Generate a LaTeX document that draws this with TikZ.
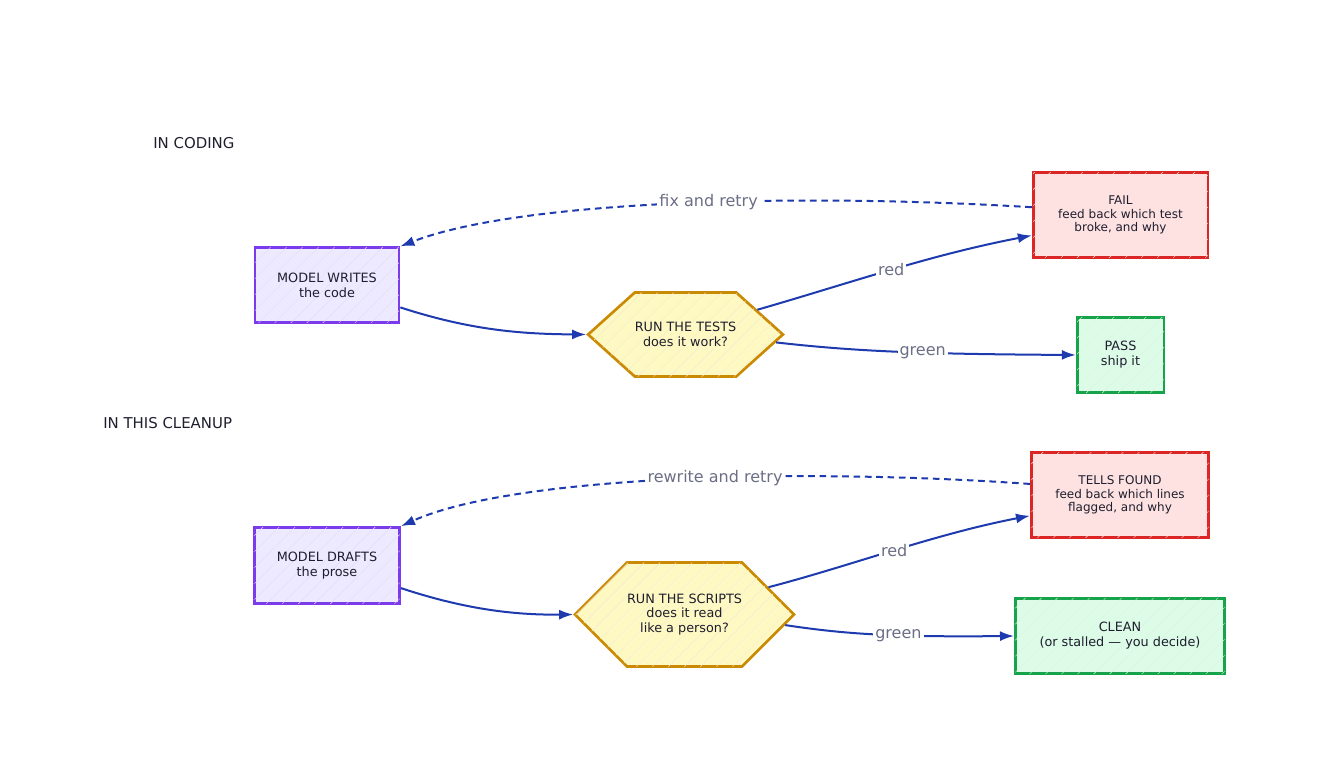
\documentclass[tikz,border=0pt]{standalone}
\usepackage{fontspec}
\setmainfont{DejaVu Sans}
\usetikzlibrary{arrows.meta,shapes.symbols,patterns.meta}

\definecolor{inkc}{HTML}{1E1E2E}
\definecolor{flowc}{HTML}{1E3AAF}
\definecolor{notec}{HTML}{6B6E85}
\definecolor{modelline}{HTML}{7C3AED}
\definecolor{modelfill}{HTML}{EDE9FE}
\definecolor{testline}{HTML}{CA8A04}
\definecolor{testfill}{HTML}{FEF9C3}
\definecolor{failline}{HTML}{DC2626}
\definecolor{failfill}{HTML}{FEE2E2}
\definecolor{passline}{HTML}{16A34A}
\definecolor{passfill}{HTML}{DCFCE7}

\begin{document}
\begin{tikzpicture}[x=0.75pt, y=-0.75pt,
  box/.style={draw, line width=2pt, align=center, inner sep=0pt, text=inkc,
    font=\fontsize{9.6}{11.2}\selectfont},
  hatch/.style={postaction={pattern={Lines[angle=45,distance=8.5pt,line width=0.3pt]}, pattern color=#1}},
  model/.style={box, draw=modelline, fill=modelfill, hatch=modelline!18},
  test/.style={box, shape=signal, signal to=west and east, draw=testline, fill=testfill,
    hatch=testline!18, font=\fontsize{9.6}{10.9}\selectfont},
  fail/.style={box, draw=failline, fill=failfill, hatch=failline!13,
    font=\fontsize{9}{10.1}\selectfont},
  pass/.style={box, draw=passline, fill=passfill, hatch=passline!14},
  head/.style={anchor=west, inner sep=0pt, text=inkc, font=\fontsize{11.2}{13}\selectfont},
  lbl/.style={fill=white, inner sep=1.5pt, text=notec, font=\fontsize{12}{14}\selectfont},
  flow/.style={-{Latex[length=10.5pt,width=7.5pt]}, draw=flowc, line width=1.5pt},
  back/.style={flow, dash pattern=on 5pt off 3.5pt}]
\useasboundingbox (0,0) rectangle (1325,774);

% coding loop
\node[head] (codinghead) at (153,143) {IN CODING};
\node[model, minimum width=108pt, minimum height=56pt] (write) at (327,285) {MODEL WRITES\\the code};
\node[test, minimum width=143pt, minimum height=63pt, signal pointer angle=84] (tests) at (685.5,334.5) {RUN THE TESTS\\does it work?};
\node[fail, minimum width=131pt, minimum height=63.5pt] (fail) at (1120.5,215) {FAIL\\feed back which test\\broke, and why};
\node[pass, minimum width=65pt, minimum height=56pt] (pass) at (1120.5,355) {PASS\\ship it};

\draw[flow] (write.-17) .. controls (470,330) and (520,334) .. (tests.west);
\draw[flow] (tests.19) .. controls (850,283) and (930,255) .. (fail.193) node[lbl, pos=0.5] {red};
\draw[flow] (tests.-5) .. controls (860,352) and (930,354) .. (pass.west) node[lbl, pos=0.57] {green};
\draw[back] (fail.175) .. controls (800,193) and (520,200) .. (write.north east) node[lbl, pos=0.45] {fix and retry};

% cleanup loop
\node[head] (cleanuphead) at (103,423) {IN THIS CLEANUP};
\node[model, minimum width=109pt, minimum height=57pt] (drafts) at (327,565.5) {MODEL DRAFTS\\the prose};
\node[test, minimum width=161pt, minimum height=78pt, signal pointer angle=90] (scripts) at (684.5,614.5) {RUN THE SCRIPTS\\does it read\\like a person?};
\node[fail, minimum width=133pt, minimum height=63.5pt] (tells) at (1120,495) {TELLS FOUND\\feed back which lines\\flagged, and why};
\node[pass, minimum width=157pt, minimum height=56pt] (clean) at (1120,636) {CLEAN\\(or stalled — you decide)};

\draw[flow] (drafts.-17) .. controls (470,611) and (520,615) .. (scripts.west);
\draw[flow] (scripts.18) .. controls (850,566) and (935,534) .. (tells.193) node[lbl, pos=0.5] {red};
\draw[flow] (scripts.-6) .. controls (850,635) and (900,637) .. (clean.west) node[lbl, pos=0.58] {green};
\draw[back] (tells.173) .. controls (790,467) and (510,477) .. (drafts.north east) node[lbl, pos=0.43] {rewrite and retry};
\end{tikzpicture}
\end{document}
